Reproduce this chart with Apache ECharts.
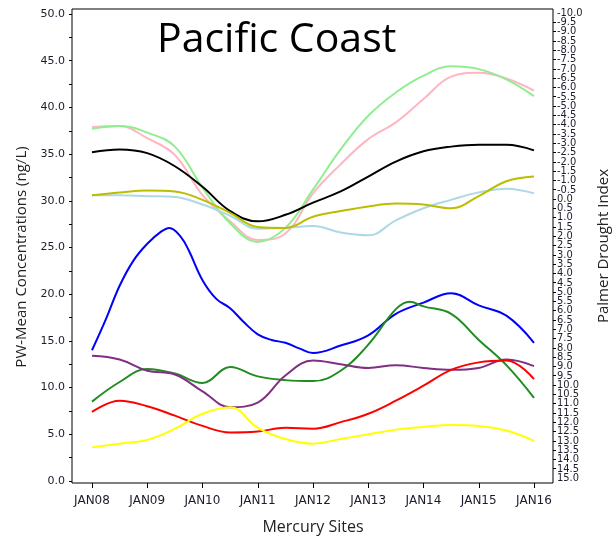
<!DOCTYPE html>
<html>
<head>
<meta charset="utf-8">
<script src="https://cdn.jsdelivr.net/npm/echarts@6/dist/echarts.min.js"></script>
<style>
  html, body { margin: 0; padding: 0; background: #ffffff; }
  #chart { width: 615px; height: 542px; }
</style>
</head>
<body>
<div id="chart"></div>
<script>
// Sampling dates, in years after January 2008
const yearLabels = ['JAN08', 'JAN09', 'JAN10', 'JAN11', 'JAN12', 'JAN13', 'JAN14', 'JAN15', 'JAN16'];
const halfYears = [0, 0.5, 1, 1.5, 2, 2.5, 3, 3.5, 4, 4.5, 5, 5.5, 6, 6.5, 7, 7.5, 8];
const blueTimes = [0, 0.25, 0.5, 0.75, 1, 1.25, 1.4, 1.6, 1.75, 2, 2.25, 2.5, 2.75, 3, 3.25, 3.5, 3.75, 4, 4.5, 5, 5.5, 6, 6.5, 7, 7.5, 8];
const forestTimes = [0, 0.5, 1, 1.5, 2, 2.5, 3, 3.5, 4, 4.5, 5, 5.5, 5.75, 6, 6.5, 7, 7.5, 8];

// Palmer Drought Index scale ends
const droughtEnds = [-10, 15];

// PW-mean concentrations (ng/L) per site
const pinkSite   = [37.9, 38.0, 36.7, 34.9, 30.6, 27.8, 25.8, 26.5, 30.8, 33.9, 36.6, 38.4, 40.9, 43.3, 43.7, 43.1, 41.8];
const greenSite  = [37.7, 38.0, 37.3, 35.8, 31.4, 27.6, 25.6, 27.1, 31.2, 35.5, 39.1, 41.6, 43.4, 44.4, 44.1, 43.0, 41.2];
const blackSite  = [35.2, 35.5, 35.1, 33.7, 31.5, 28.9, 27.8, 28.5, 29.8, 31.0, 32.6, 34.2, 35.3, 35.8, 36.0, 36.0, 35.4];
const oliveSite  = [30.6, 30.9, 31.1, 31.0, 30.1, 28.7, 27.2, 27.1, 28.3, 28.9, 29.4, 29.7, 29.6, 29.2, 30.5, 32.1, 32.6];
const skySite    = [30.6, 30.6, 30.5, 30.4, 29.6, 28.4, 27.0, 27.1, 27.3, 26.6, 26.3, 27.9, 29.2, 30.1, 30.9, 31.3, 30.8];
const blueSite   = [14.0, 17.3, 20.9, 23.6, 25.4, 26.7, 27.1, 26.2, 24.7, 21.5, 19.5, 18.5, 17.0, 15.7, 15.1, 14.8, 14.2, 13.7, 14.5, 15.6, 17.9, 19.1, 20.1, 18.8, 17.7, 14.8];
const forestSite = [8.5, 10.6, 12.0, 11.5, 10.5, 12.2, 11.2, 10.8, 10.7, 11.8, 14.6, 18.4, 19.2, 18.7, 17.9, 15.1, 12.4, 8.9];
const purpleSite = [13.4, 13.0, 11.8, 11.4, 9.6, 7.9, 8.4, 11.3, 12.9, 12.5, 12.1, 12.4, 12.1, 11.9, 12.1, 13.0, 12.3];
const redSite    = [7.4, 8.6, 8.0, 7.0, 5.9, 5.2, 5.3, 5.7, 5.6, 6.3, 7.2, 8.6, 10.2, 11.9, 12.7, 12.9, 10.9];
const yellowSite = [3.6, 4.0, 4.4, 5.6, 7.2, 7.9, 5.7, 4.5, 4.0, 4.5, 5.0, 5.5, 5.8, 6.0, 5.9, 5.4, 4.3];

const siteLines = [
  { name: 'Pink',   color: '#FFB6C1', times: halfYears, values: pinkSite },
  { name: 'Green',  color: '#90EE90', times: halfYears, values: greenSite },
  { name: 'Black',  color: '#000000', times: halfYears, values: blackSite },
  { name: 'Sky',    color: '#ADD8E6', times: halfYears, values: skySite },
  { name: 'Olive',  color: '#BDBD00', times: halfYears, values: oliveSite },
  { name: 'Blue',   color: '#0000FF', times: blueTimes, values: blueSite },
  { name: 'Forest', color: '#228B22', times: forestTimes, values: forestSite },
  { name: 'Purple', color: '#822E82', times: halfYears, values: purpleSite },
  { name: 'Red',    color: '#FF0000', times: halfYears, values: redSite },
  { name: 'Yellow', color: '#FFFF00', times: halfYears, values: yellowSite }
];

const labelColor = '#1c1c2c';
const titleFont = '15px "Open Sans"';
const droughtLabel = {
  margin: 4, fontFamily: 'DejaVu Sans Condensed', fontSize: 11, color: labelColor,
  formatter: v => v.toFixed(1)
};
const chart = echarts.init(document.getElementById('chart'), null, { renderer: 'canvas' });

chart.setOption({
  animation: false,
  backgroundColor: '#ffffff',
  title: {
    text: 'Pacific Coast',
    left: 152,
    top: 15,
    textStyle: { fontFamily: 'Open Sans', fontSize: 41, fontWeight: 'normal', color: '#000000' }
  },
  graphic: [
    {
      type: 'text', x: 22, y: 257, rotation: Math.PI / 2,
      style: { text: 'PW-Mean Concentrations (ng/L)', font: titleFont, fill: '#222222', align: 'center', verticalAlign: 'middle' }
    },
    {
      type: 'text', x: 604, y: 246, rotation: Math.PI / 2,
      style: { text: 'Palmer Drought Index', font: titleFont, fill: '#222222', align: 'center', verticalAlign: 'middle' }
    }
  ],
  grid: [
    // data area (concentration axis)
    { left: 92, right: 81, top: 14, bottom: 61 },
    // plot frame
    { left: 72, right: 62, top: 9, bottom: 59, show: true, borderColor: '#000000', borderWidth: 1, backgroundColor: 'transparent' },
    // drought index axis
    { left: 92, right: 81, top: 13, bottom: 64 }
  ],
  xAxis: [
    {
      gridIndex: 0, type: 'value', min: 0, max: 8, interval: 1, offset: 2,
      axisLine: { show: false, onZero: false },
      axisTick: { show: true, length: 5, lineStyle: { color: '#000000' } },
      splitLine: { show: false },
      axisLabel: {
        margin: 12, fontFamily: 'DejaVu Sans', fontSize: 12, color: labelColor,
        formatter: v => yearLabels[v]
      },
      name: 'Mercury Sites', nameLocation: 'middle', nameGap: 36,
      nameTextStyle: { fontFamily: 'Open Sans', fontSize: 16, color: '#222222' }
    },
    { gridIndex: 1, type: 'value', show: false, min: 0, max: 1, axisLine: { onZero: false } },
    { gridIndex: 2, type: 'value', show: false, min: 0, max: 8, axisLine: { onZero: false } }
  ],
  yAxis: [
    {
      gridIndex: 0, type: 'value', min: 0, max: 50, interval: 5, position: 'left', offset: 20,
      axisLine: { show: false, onZero: false },
      axisTick: { show: true, length: 3, lineStyle: { color: '#000000' } },
      minorTick: { show: true, splitNumber: 2, length: 3, lineStyle: { color: '#000000' } },
      splitLine: { show: false },
      axisLabel: {
        margin: 7, fontFamily: 'DejaVu Sans', fontSize: 11, color: labelColor,
        showMinLabel: true, showMaxLabel: true,
        formatter: v => v.toFixed(1)
      }
    },
    { gridIndex: 1, type: 'value', show: false, min: 0, max: 1, axisLine: { onZero: false } },
    {
      // drought index ticks and inner labels
      gridIndex: 2, type: 'value', min: -10, max: 15, interval: 0.5, inverse: true, position: 'right', offset: 19,
      axisLine: { show: false, onZero: false },
      axisTick: { show: true, length: 3, lineStyle: { color: '#000000' } },
      splitLine: { show: false },
      axisLabel: Object.assign({ showMinLabel: false, showMaxLabel: false, hideOverlap: false }, droughtLabel)
    },
    {
      // drought index end labels
      gridIndex: 2, type: 'value', min: -10, max: 15, inverse: true, position: 'right', offset: 19,
      axisLine: { show: false, onZero: false },
      axisTick: { show: false },
      splitLine: { show: false },
      axisLabel: Object.assign({ customValues: droughtEnds, showMinLabel: true, showMaxLabel: true }, droughtLabel)
    }
  ],
  series: siteLines.map(s => ({
    name: s.name,
    type: 'line',
    xAxisIndex: 0,
    yAxisIndex: 0,
    smooth: 0.4,
    showSymbol: false,
    symbol: 'none',
    lineStyle: { color: s.color, width: 2 },
    itemStyle: { color: s.color },
    data: s.times.map((t, i) => [t, s.values[i]])
  }))
});
</script>
</body>
</html>
